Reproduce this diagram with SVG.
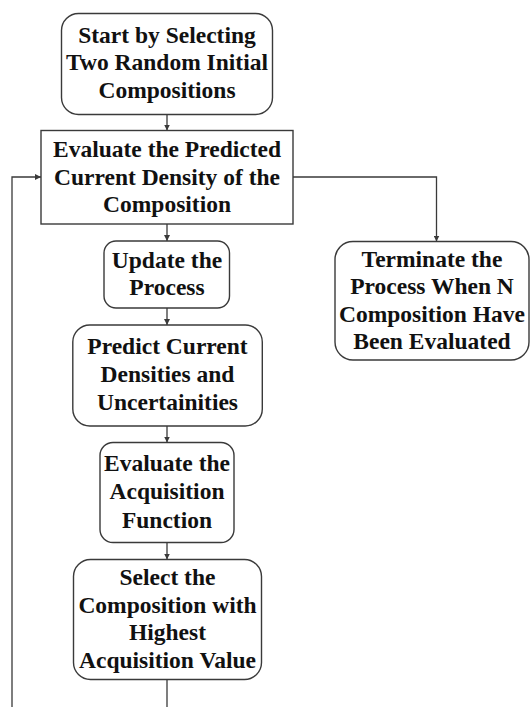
<svg xmlns="http://www.w3.org/2000/svg" width="531" height="707" viewBox="0 0 531 707">
  <defs>
    <style>
      .box { fill: #ffffff; stroke: #3a3a3a; stroke-width: 1.4; }
      .lbl { font-family: "Liberation Serif", "Times New Roman", serif; font-weight: bold; font-size: 23.5px; fill: #111111; text-anchor: middle; }
      .conn { fill: none; stroke: #3a3a3a; stroke-width: 1.3; }
    </style>
    <marker id="arr" markerUnits="userSpaceOnUse" markerWidth="6" markerHeight="6" viewBox="0 0 6 6" refX="6" refY="3" orient="auto">
      <path d="M0,0 L6,3 L0,6 z" fill="#3a3a3a"/>
    </marker>
  </defs>
  <rect width="531" height="707" fill="#ffffff"/>

  <g id="connectors">
    <line class="conn" x1="167" y1="114.5" x2="167" y2="130.5" marker-end="url(#arr)"/>
    <line class="conn" x1="167" y1="224" x2="167" y2="241" marker-end="url(#arr)"/>
    <line class="conn" x1="167" y1="308" x2="167" y2="325" marker-end="url(#arr)"/>
    <line class="conn" x1="167" y1="426" x2="167" y2="442.5" marker-end="url(#arr)"/>
    <line class="conn" x1="167" y1="542.5" x2="167" y2="559.5" marker-end="url(#arr)"/>
    <line class="conn" x1="167" y1="679.5" x2="167" y2="707"/>
    <polyline class="conn" points="293,177 436.5,177 436.5,241.5" marker-end="url(#arr)"/>
    <polyline class="conn" points="12,707 12,177 41,177" marker-end="url(#arr)"/>
  </g>

  <g id="start">
    <rect class="box" x="61.5" y="13.5" width="211" height="101" rx="17"/>
    <text class="lbl" x="167" y="42.5">Start by Selecting</text>
    <text class="lbl" x="167" y="70">Two Random Initial</text>
    <text class="lbl" x="167" y="97.5">Compositions</text>
  </g>

  <g id="evaluate">
    <rect class="box" x="41" y="130.5" width="252" height="93.5"/>
    <text class="lbl" x="167" y="157">Evaluate the Predicted</text>
    <text class="lbl" x="167" y="184.5">Current Density of the</text>
    <text class="lbl" x="167" y="212">Composition</text>
  </g>

  <g id="update">
    <rect class="box" x="104" y="241" width="125.5" height="67" rx="12"/>
    <text class="lbl" x="167" y="267.5">Update the</text>
    <text class="lbl" x="167" y="295">Process</text>
  </g>

  <g id="terminate">
    <rect class="box" x="335" y="241.5" width="194" height="118.5" rx="18"/>
    <text class="lbl" x="432" y="266.5">Terminate the</text>
    <text class="lbl" x="432" y="294">Process When N</text>
    <text class="lbl" x="432" y="321.5">Composition Have</text>
    <text class="lbl" x="432" y="349">Been Evaluated</text>
  </g>

  <g id="predict">
    <rect class="box" x="72.8" y="325" width="189.5" height="101" rx="17"/>
    <text class="lbl" x="167.5" y="354">Predict Current</text>
    <text class="lbl" x="167.5" y="381.5">Densities and</text>
    <text class="lbl" x="167.5" y="409.5">Uncertainities</text>
  </g>

  <g id="acquisition">
    <rect class="box" x="100" y="442.5" width="134" height="100" rx="13"/>
    <text class="lbl" x="167" y="471">Evaluate the</text>
    <text class="lbl" x="167" y="499">Acquisition</text>
    <text class="lbl" x="167" y="527.5">Function</text>
  </g>

  <g id="select">
    <rect class="box" x="73.5" y="559.5" width="188" height="120" rx="17"/>
    <text class="lbl" x="167.5" y="585">Select the</text>
    <text class="lbl" x="167.5" y="612.5">Composition with</text>
    <text class="lbl" x="167.5" y="640">Highest</text>
    <text class="lbl" x="167.5" y="667.5">Acquisition Value</text>
  </g>
</svg>
